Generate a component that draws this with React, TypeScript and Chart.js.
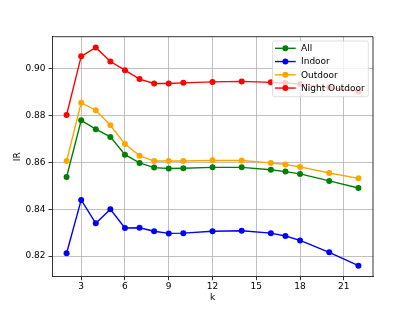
import React, { useEffect, useRef } from "react";
import { Chart, registerables } from "chart.js";

Chart.register(...registerables);

const kValues = [2, 3, 4, 5, 6, 7, 8, 9, 10, 12, 14, 16, 17, 18, 20, 22];
const allValues = [0.8538, 0.878, 0.8742, 0.8709, 0.8633, 0.8598, 0.8578, 0.8574, 0.8575, 0.8579, 0.8579, 0.8569, 0.8561, 0.8551, 0.8521, 0.8491];
const indoorValues = [0.8212, 0.844, 0.834, 0.84, 0.832, 0.8321, 0.8306, 0.8297, 0.8298, 0.8306, 0.8308, 0.8298, 0.8286, 0.8267, 0.8216, 0.8159];
const outdoorValues = [0.8606, 0.8855, 0.8823, 0.8759, 0.8679, 0.8629, 0.8606, 0.8606, 0.8606, 0.8609, 0.8608, 0.8598, 0.8591, 0.8581, 0.8555, 0.8532];
const nightOutdoorValues = [0.8803, 0.9053, 0.9091, 0.9031, 0.8994, 0.8956, 0.8937, 0.8937, 0.894, 0.8944, 0.8946, 0.8942, 0.8939, 0.8935, 0.8919, 0.8903];

const seriesNames = ["All", "Indoor", "Outdoor", "Night Outdoor"];
const seriesColors = ["#008000", "#0000ff", "#ffa500", "#ff0000"];
const seriesValues = [allValues, indoorValues, outdoorValues, nightOutdoorValues];

const xTicks = [3, 6, 9, 12, 15, 18, 21];
const yTicks = [0.82, 0.84, 0.86, 0.88, 0.9];
const xLabel = "k";
const yLabel = "IR";

const FONT = "DejaVu Sans";

const framePlugin = {
  id: "frameAndLegend",
  afterDatasetsDraw(chart: any) {
    const { ctx, chartArea } = chart;
    ctx.save();
    // top and right spines
    ctx.strokeStyle = "#000";
    ctx.lineWidth = 0.8;
    ctx.beginPath();
    ctx.moveTo(chartArea.left, chartArea.top);
    ctx.lineTo(chartArea.right, chartArea.top);
    ctx.lineTo(chartArea.right, chartArea.bottom);
    ctx.stroke();

    // legend
    ctx.font = `9px "${FONT}"`;
    let maxW = 0;
    seriesNames.forEach((n) => {
      maxW = Math.max(maxW, ctx.measureText(n).width);
    });
    const padL = 2.5;
    const lineLen = 20.7;
    const gap = 5.3;
    const padR = 3.5;
    const boxW = padL + lineLen + gap + maxW + padR;
    const boxH = 55.7;
    const right = chartArea.right - 4.7;
    const left = right - boxW;
    const top = chartArea.top + 4.3;
    const r = 2;
    ctx.beginPath();
    ctx.moveTo(left + r, top);
    ctx.lineTo(left + boxW - r, top);
    ctx.arcTo(left + boxW, top, left + boxW, top + r, r);
    ctx.lineTo(left + boxW, top + boxH - r);
    ctx.arcTo(left + boxW, top + boxH, left + boxW - r, top + boxH, r);
    ctx.lineTo(left + r, top + boxH);
    ctx.arcTo(left, top + boxH, left, top + boxH - r, r);
    ctx.lineTo(left, top + r);
    ctx.arcTo(left, top, left + r, top, r);
    ctx.closePath();
    ctx.fillStyle = "rgba(255,255,255,0.8)";
    ctx.fill();
    ctx.strokeStyle = "rgba(204,204,204,0.8)";
    ctx.lineWidth = 0.8;
    ctx.stroke();

    seriesNames.forEach((name, i) => {
      const cy = top + 7.3 + i * 13.25;
      const lx = left + padL;
      ctx.strokeStyle = seriesColors[i];
      ctx.lineWidth = 1.4;
      ctx.beginPath();
      ctx.moveTo(lx, cy);
      ctx.lineTo(lx + lineLen, cy);
      ctx.stroke();
      ctx.fillStyle = seriesColors[i];
      ctx.beginPath();
      ctx.arc(lx + lineLen / 2, cy, 3, 0, Math.PI * 2);
      ctx.fill();
      ctx.fillStyle = "#000";
      ctx.textBaseline = "middle";
      ctx.textAlign = "left";
      ctx.fillText(name, lx + lineLen + gap, cy + 0.5);
    });
    ctx.restore();
  },
};

export default function App() {
  const canvasRef = useRef<HTMLCanvasElement | null>(null);

  useEffect(() => {
    if (!canvasRef.current) return;
    const datasets = seriesNames.map((name, i) => ({
      label: name,
      data: kValues.map((k, j) => ({ x: k, y: seriesValues[i][j] })),
      borderColor: seriesColors[i],
      backgroundColor: seriesColors[i],
      pointBackgroundColor: seriesColors[i],
      pointBorderColor: seriesColors[i],
      pointBorderWidth: 0,
      pointRadius: 3,
      borderWidth: 1.4,
      tension: 0,
      fill: false,
    }));

    const chart = new Chart(canvasRef.current, {
      type: "line",
      data: { datasets },
      plugins: [framePlugin],
      options: {
        animation: false,
        responsive: true,
        maintainAspectRatio: false,
        layout: { padding: { left: 0, right: 42, top: 36.7, bottom: 0 } },
        plugins: {
          legend: { display: false },
          tooltip: { enabled: false },
        },
        scales: {
          x: {
            type: "linear",
            min: 1,
            max: 23,
            afterBuildTicks: (scale: any) => {
              scale.ticks = xTicks.map((v) => ({ value: v }));
            },
            afterFit: (scale: any) => {
              scale.height = 34.3;
            },
            grid: {
              color: "#b0b0b0",
              lineWidth: 0.8,
              drawTicks: true,
              tickLength: 3.5,
              tickColor: "#000",
              tickWidth: 0.8,
            },
            border: { display: true, color: "#000", width: 0.8 },
            ticks: {
              color: "#000",
              font: { family: FONT, size: 9 },
              padding: 1,
              maxRotation: 0,
              autoSkip: false,
              callback: (v: any) => String(v),
            },
            title: {
              display: true,
              text: xLabel,
              color: "#000",
              font: { family: FONT, size: 9 },
              padding: { top: 0, bottom: 7.9 },
            },
          },
          y: {
            type: "linear",
            min: 0.8112,
            max: 0.9137,
            afterBuildTicks: (scale: any) => {
              scale.ticks = yTicks.map((v) => ({ value: v }));
            },
            afterFit: (scale: any) => {
              scale.width = 52;
            },
            grid: {
              color: "#b0b0b0",
              lineWidth: 0.8,
              drawTicks: true,
              tickLength: 3.5,
              tickColor: "#000",
              tickWidth: 0.8,
            },
            border: { display: true, color: "#000", width: 0.8 },
            ticks: {
              color: "#000",
              font: { family: FONT, size: 9 },
              padding: 3,
              autoSkip: false,
              callback: (v: any) => Number(v).toFixed(2),
            },
            title: {
              display: true,
              text: yLabel,
              color: "#000",
              font: { family: FONT, size: 9 },
              padding: { top: 12.6, bottom: 0 },
            },
          },
        },
      },
    } as any);
    return () => chart.destroy();
  }, []);

  return (
    <div style={{ position: "fixed", left: 0, top: 0, width: 415, height: 311, background: "#fff" }}>
      <canvas ref={canvasRef} />
    </div>
  );
}
